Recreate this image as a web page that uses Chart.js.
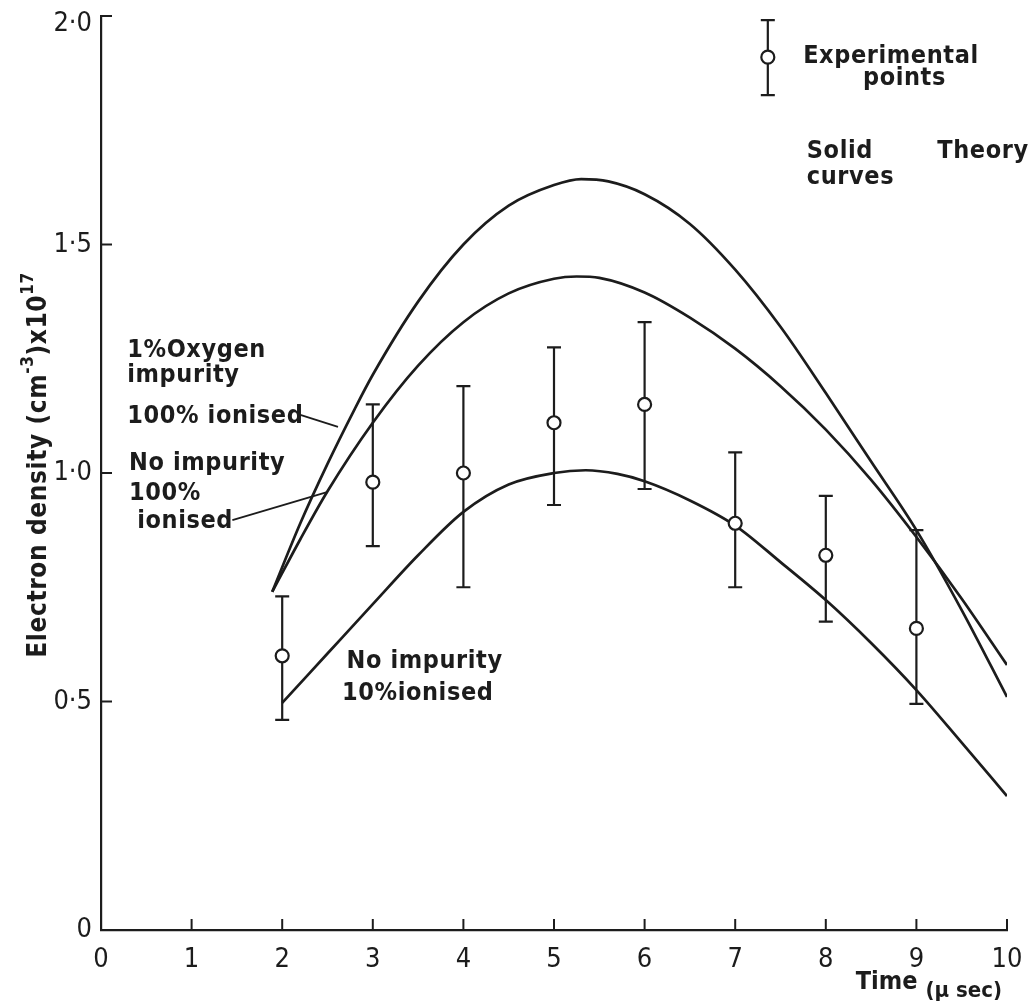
<!DOCTYPE html>
<html>
<head>
<meta charset="utf-8">
<script src="https://cdn.jsdelivr.net/npm/chart.js@4.4.1/dist/chart.umd.min.js"></script>
<style>
    body { margin: 0; background: #fff; }
    canvas { display: block; }
</style>
</head>
<body>
<canvas id="grafico" width="1029" height="1007"></canvas>
<script>
// Experimental points (time in micro sec, density x 10^17)
const expX = [2, 3, 4, 5, 6, 7, 8, 9];
const expY = [0.60, 0.98, 1.00, 1.11, 1.15, 0.89, 0.82, 0.66];
const expHigh = [0.73, 1.15, 1.19, 1.275, 1.33, 1.045, 0.95, 0.875];
const expLow = [0.46, 0.84, 0.75, 0.93, 0.965, 0.75, 0.675, 0.495];

// Theory: 1% oxygen impurity, 100% ionised
const oxyX = [1.89, 2.2, 2.5, 2.8, 3.0, 3.5, 4.0, 4.5, 5.0, 5.3, 5.6, 6.0, 6.5, 7.0, 7.5, 8.0, 8.5, 9.0, 9.5, 10];
const oxyY = [0.74, 0.89, 1.02, 1.14, 1.215, 1.375, 1.50, 1.585, 1.63, 1.643, 1.638, 1.61, 1.545, 1.445, 1.32, 1.175, 1.025, 0.875, 0.70, 0.51];

// Theory: no impurity, 100% ionised
const pureX = [1.89, 2.2, 2.5, 3.0, 3.5, 4.0, 4.5, 5.0, 5.25, 5.5, 6.0, 6.5, 7.0, 7.5, 8.0, 8.5, 9.0, 9.5, 10];
const pureY = [0.74, 0.855, 0.96, 1.11, 1.235, 1.33, 1.393, 1.425, 1.43, 1.427, 1.395, 1.34, 1.272, 1.19, 1.095, 0.985, 0.86, 0.725, 0.58];

// Theory: no impurity, 10% ionised
const lowX = [2.0, 2.5, 3.0, 3.5, 4.0, 4.5, 5.0, 5.35, 5.7, 6.0, 6.5, 7.0, 7.5, 8.0, 8.5, 9.0, 9.5, 10];
const lowY = [0.497, 0.605, 0.713, 0.82, 0.915, 0.975, 1.0, 1.006, 0.998, 0.982, 0.94, 0.885, 0.805, 0.722, 0.628, 0.525, 0.41, 0.293];

// Tick labels
const xTicks = [0, 1, 2, 3, 4, 5, 6, 7, 8, 9, 10];
const yTicks = [0, 0.5, 1.0, 1.5, 2.0];
const yTickLabels = ['0', '0·5', '1·0', '1·5', '2·0'];

const ink = '#1c1c1c';
const fonte = "'DejaVu Sans Condensed', 'DejaVu Sans', sans-serif";

// Labels placed in data coordinates
const rotulos = [
    { t: '1%Oxygen', x: 0.29, y: 1.254 },
    { t: 'impurity', x: 0.29, y: 1.199 },
    { t: '100% ionised', x: 0.29, y: 1.109 },
    { t: 'No impurity', x: 0.31, y: 1.007 },
    { t: '100%', x: 0.31, y: 0.941 },
    { t: 'ionised', x: 0.40, y: 0.880 },
    { t: 'No impurity', x: 2.71, y: 0.573 },
    { t: '10%ionised', x: 2.66, y: 0.503 },
    { t: 'Experimental', x: 7.75, y: 1.897 },
    { t: 'points', x: 8.41, y: 1.849 },
    { t: 'Solid', x: 7.79, y: 1.689 },
    { t: 'Theory', x: 9.23, y: 1.689 },
    { t: 'curves', x: 7.79, y: 1.632 }
];
const guias = [
    [2.20, 1.127, 2.616, 1.101],
    [1.45, 0.897, 2.494, 0.958]
];
const legendaBarra = { x: 7.36, y: 1.91, low: 1.827, high: 1.991 };

function pontos(xs, ys) {
    return xs.map((v, i) => ({ x: v, y: ys[i] }));
}

function curva(xs, ys) {
    return {
        data: pontos(xs, ys),
        showLine: true,
        borderColor: ink,
        borderWidth: 2.7,
        pointRadius: 0,
        cubicInterpolationMode: 'monotone',
        fill: false
    };
}

function barraErro(ctx, px, ys) {
    ctx.beginPath();
    ctx.moveTo(px, ys.hi); ctx.lineTo(px, ys.lo);
    ctx.moveTo(px - 7, ys.hi); ctx.lineTo(px + 7, ys.hi);
    ctx.moveTo(px - 7, ys.lo); ctx.lineTo(px + 7, ys.lo);
    ctx.stroke();
}

const desenhos = {
    id: 'desenhos',
    beforeDatasetsDraw(chart) {
        const { ctx, scales: { x, y } } = chart;
        ctx.save();
        ctx.strokeStyle = ink;
        ctx.lineWidth = 2.2;
        // error bars
        expX.forEach((v, i) => {
            barraErro(ctx, x.getPixelForValue(v),
                { hi: y.getPixelForValue(expHigh[i]), lo: y.getPixelForValue(expLow[i]) });
        });
        // inward ticks
        ctx.lineWidth = 2;
        xTicks.forEach(v => {
            const px = x.getPixelForValue(v);
            ctx.beginPath();
            ctx.moveTo(px, y.bottom); ctx.lineTo(px, y.bottom - 11);
            ctx.stroke();
        });
        yTicks.forEach(v => {
            const py = y.getPixelForValue(v);
            ctx.beginPath();
            ctx.moveTo(x.left, py); ctx.lineTo(x.left + 11, py);
            ctx.stroke();
        });
        // y tick labels (top one sits a little below its tick, as drawn)
        ctx.fillStyle = ink;
        ctx.font = '27px ' + fonte;
        ctx.textAlign = 'right';
        ctx.textBaseline = 'middle';
        yTicks.forEach((v, i) => {
            const py = Math.max(y.getPixelForValue(v), y.top + 8);
            ctx.fillText(yTickLabels[i], x.left - 9, py);
        });
        ctx.restore();
    },
    afterDatasetsDraw(chart) {
        const { ctx, scales: { x, y } } = chart;
        ctx.save();
        ctx.fillStyle = ink;
        ctx.strokeStyle = ink;
        ctx.font = 'bold 25px ' + fonte;
        ctx.letterSpacing = '0.6px';
        ctx.textBaseline = 'alphabetic';
        ctx.textAlign = 'left';
        rotulos.forEach(r => {
            ctx.fillText(r.t, x.getPixelForValue(r.x), y.getPixelForValue(r.y));
        });

        // leader lines
        ctx.lineWidth = 1.8;
        guias.forEach(g => {
            ctx.beginPath();
            ctx.moveTo(x.getPixelForValue(g[0]), y.getPixelForValue(g[1]));
            ctx.lineTo(x.getPixelForValue(g[2]), y.getPixelForValue(g[3]));
            ctx.stroke();
        });

        // legend symbol
        ctx.lineWidth = 2.2;
        const lx = x.getPixelForValue(legendaBarra.x);
        const ly = y.getPixelForValue(legendaBarra.y);
        barraErro(ctx, lx, { hi: y.getPixelForValue(legendaBarra.high), lo: y.getPixelForValue(legendaBarra.low) });
        ctx.beginPath();
        ctx.arc(lx, ly, 6.5, 0, Math.PI * 2);
        ctx.fillStyle = '#fff';
        ctx.fill();
        ctx.stroke();
        ctx.fillStyle = ink;

        // y axis title
        ctx.save();
        ctx.translate(46, 465);
        ctx.rotate(-Math.PI / 2);
        const partes = [
            ['Electron density (cm', false],
            ['-3', true],
            [')x10', false],
            ['17', true]
        ];
        let total = 0;
        partes.forEach(p => {
            ctx.font = (p[1] ? 'bold 17px ' : 'bold 26px ') + fonte;
            total += ctx.measureText(p[0]).width;
        });
        let cx = -total / 2;
        partes.forEach(p => {
            ctx.font = (p[1] ? 'bold 17px ' : 'bold 26px ') + fonte;
            ctx.fillText(p[0], cx, p[1] ? -13 : 0);
            cx += ctx.measureText(p[0]).width;
        });
        ctx.restore();

        // x axis title
        ctx.letterSpacing = '0px';
        ctx.textAlign = 'right';
        ctx.font = 'bold 22px ' + fonte;
        ctx.fillText('(\u03bc sec)', 1002, 997);
        const w = ctx.measureText('(\u03bc sec)').width;
        ctx.font = 'bold 25px ' + fonte;
        ctx.fillText('Time', 1002 - w - 8, 989);
        ctx.restore();
    }
};

const ctx = document.getElementById('grafico').getContext('2d');
new Chart(ctx, {
    type: 'scatter',
    data: {
        datasets: [
            {
                data: pontos(expX, expY),
                pointRadius: 6.5,
                pointBackgroundColor: '#fff',
                pointBorderColor: ink,
                pointBorderWidth: 2.2,
                showLine: false
            },
            curva(oxyX, oxyY),
            curva(pureX, pureY),
            curva(lowX, lowY)
        ]
    },
    options: {
        responsive: false,
        animation: false,
        layout: { padding: { top: 16, right: 22, left: 0, bottom: 0 } },
        plugins: {
            legend: { display: false },
            tooltip: { enabled: false }
        },
        scales: {
            x: {
                type: 'linear',
                min: 0,
                max: 10,
                afterBuildTicks: s => { s.ticks = xTicks.map(v => ({ value: v })); },
                ticks: {
                    color: ink,
                    font: { family: fonte, size: 27 },
                    padding: 6,
                    maxRotation: 0,
                    callback: v => String(v)
                },
                grid: { display: false },
                border: { display: true, color: ink, width: 2.2 },
                afterFit: s => { s.height = 77; }
            },
            y: {
                min: 0,
                max: 2,
                afterBuildTicks: s => { s.ticks = yTicks.map(v => ({ value: v })); },
                ticks: { display: false },
                grid: { display: false },
                border: { display: true, color: ink, width: 2.2 },
                afterFit: s => { s.width = 101; }
            }
        }
    },
    plugins: [desenhos]
});
</script>
</body>
</html>
